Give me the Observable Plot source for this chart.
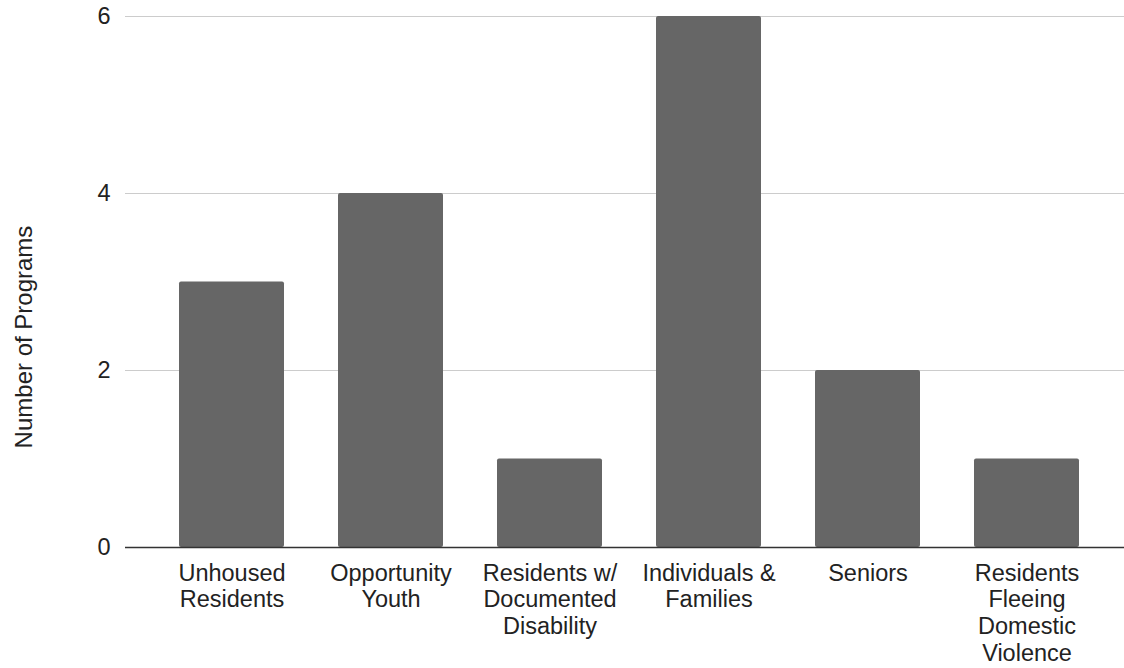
<!DOCTYPE html>
<html>
<head>
<meta charset="utf-8">
<script src="https://cdn.jsdelivr.net/npm/d3@7"></script>
<script src="https://cdn.jsdelivr.net/npm/@observablehq/plot@0.6"></script>
<style>
  html, body { margin: 0; padding: 0; background: #fff; }
</style>
</head>
<body>
<div id="chart"></div>
<script>
const categories = [
  "Unhoused Residents",
  "Opportunity Youth",
  "Residents w/ Documented Disability",
  "Individuals & Families",
  "Seniors",
  "Residents Fleeing Domestic Violence"
];
const tickLabels = [
  "Unhoused\nResidents",
  "Opportunity\nYouth",
  "Residents w/\nDocumented\nDisability",
  "Individuals &\nFamilies",
  "Seniors",
  "Residents\nFleeing\nDomestic\nViolence"
];
const programs = [3, 4, 1, 6, 2, 1];
const yTicks = [0, 2, 4, 6];
const yTitle = "Number of Programs";

const data = categories.map((c, i) => ({category: c, value: programs[i]}));

const chart = Plot.plot({
  width: 1124,
  height: 668,
  marginLeft: 125,
  marginRight: 0,
  marginTop: 16,
  marginBottom: 121,
  style: {fontFamily: "'Liberation Sans', Arial, sans-serif", background: "#fff", color: "#222"},
  x: {domain: categories, range: [150, 1108], paddingInner: 0.34, paddingOuter: 0.17},
  y: {domain: [0, 6]},
  marks: [
    Plot.gridY(yTicks, {stroke: "#cccccc", strokeOpacity: 1, strokeWidth: 1.2}),
    Plot.barY(data, {x: "category", y: "value", fill: "#666666", rx: 2}),
    Plot.ruleY([0], {stroke: "#333333", strokeWidth: 1.5}),
    Plot.axisY(yTicks, {tickSize: 0, tickPadding: 15, fontSize: 23.5, label: null, fill: "#222", tickFormat: d3.format("d")}),
    Plot.axisX({
      tickSize: 0,
      tickPadding: 14,
      fontSize: 23.5,
      lineHeight: 1.14,
      label: null,
      fill: "#222",
      tickFormat: d => tickLabels[categories.indexOf(d)]
    }),
    Plot.text([yTitle], {
      frameAnchor: "left",
      rotate: -90,
      dx: -101,
      dy: 55,
      fontSize: 24,
      fill: "#222",
      textAnchor: "middle",
      lineAnchor: "middle"
    })
  ]
});
document.getElementById("chart").appendChild(chart);
</script>
</body>
</html>
